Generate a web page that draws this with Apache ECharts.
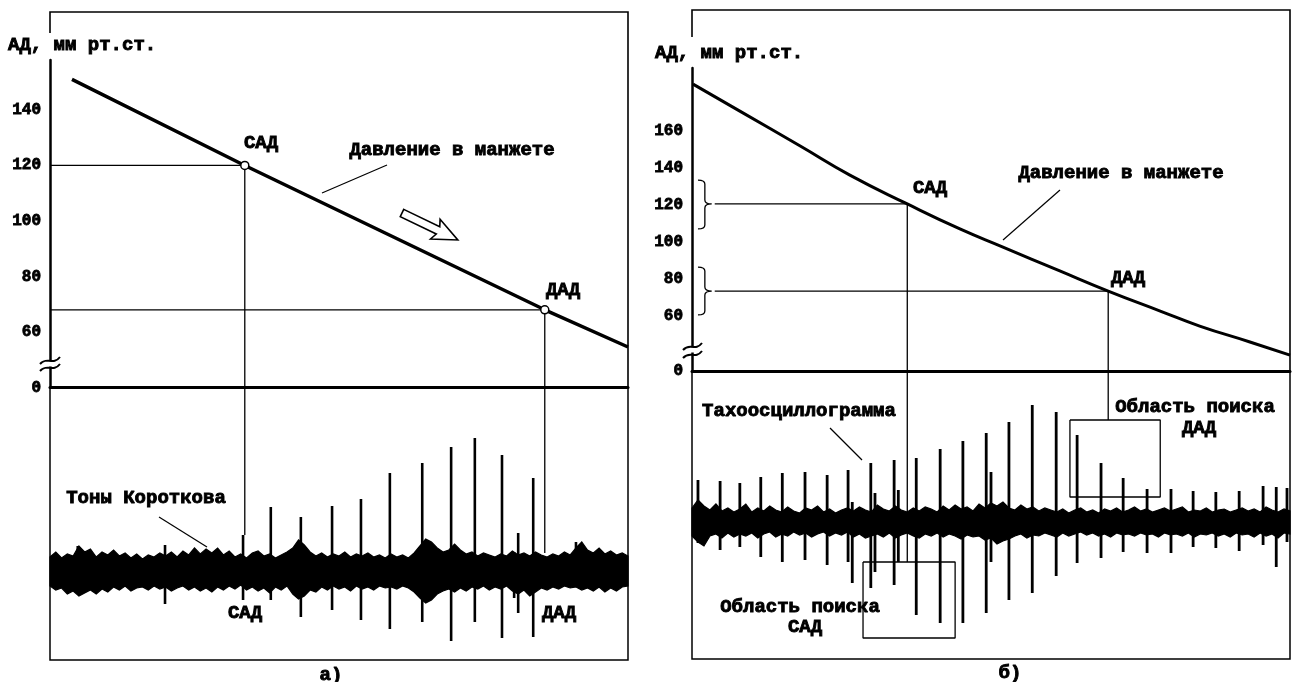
<!DOCTYPE html>
<html><head><meta charset="utf-8">
<script src="https://cdn.jsdelivr.net/npm/echarts/dist/echarts.min.js"></script>
<style>html,body{margin:0;padding:0;background:#fff}#c{width:1292px;height:682px}</style>
</head><body><div id="c"></div><script>
// ================= DATA =================
// x: relative time 0..100 across each panel; y (upper): pressure, mm Hg
// Left panel (a)
const leftPressure = [[3.8,151],[33.7,120],[85.6,68],[100,54.6]];
const leftSAD = [33.7,120];
const leftDAD = [85.6,68];
const leftYTicks = [40,60,80,100,120,140];      // 40 is drawn as "0" (broken axis)
const leftYBreakValue = 40;
// Korotkoff sound trace: [t, upper envelope, lower envelope] (relative units)
const leftNoise = [[0,15,-14],[1,20,-18],[2,14,-16],[3,18,-22],[4,16,-19],[5,26,-24],[6,20,-21],[7,23,-18],[8,15,-22],[9,20,-17],[10,17,-20],[11,22,-15],[12,16,-18],[13,19,-14],[14,14,-19],[15,18,-16],[16,13,-15],[17,17,-18],[18,15,-14],[19,19,-17],[20,16,-15],[21,20,-19],[22,15,-16],[23,21,-14],[24,17,-18],[25,24,-15],[26,18,-19],[27,23,-16],[28,19,-20],[29,24,-15],[30,17,-18],[31,21,-14],[32,15,-17],[33,18,-13],[34,14,-18],[35,19,-15],[36,21,-19],[37,16,-16],[38,18,-21],[39,14,-15],[40,17,-18],[41,20,-14],[42,24,-22],[43,32,-27],[44,27,-24],[45,20,-18],[46,16,-20],[47,19,-15],[48,15,-18],[49,18,-14],[50,16,-17],[51,20,-15],[52,15,-19],[53,18,-14],[54,16,-17],[55,19,-15],[56,15,-18],[57,17,-14],[58,14,-16],[59,18,-15],[60,15,-17],[61,17,-14],[62,14,-16],[63,19,-20],[64,26,-26],[65,33,-31],[66,30,-28],[67,24,-22],[68,20,-19],[69,22,-17],[70,28,-20],[71,22,-16],[72,18,-19],[73,20,-15],[74,16,-17],[75,19,-14],[76,17,-18],[77,15,-15],[78,18,-17],[79,16,-14],[80,21,-19],[81,17,-22],[82,19,-18],[83,16,-24],[84,20,-20],[85,17,-16],[86,15,-18],[87,18,-15],[88,16,-17],[89,20,-14],[90,17,-16],[91,24,-15],[92,30,-18],[93,22,-16],[94,19,-19],[95,24,-15],[96,18,-20],[97,21,-16],[98,17,-19],[99,19,-15],[100,16,-14]];
// Korotkoff tones: [t, peak up, peak down]
const leftSpikes = [[4.8,26,-20],[19.9,27,-32],[33.4,37,-28],[38.2,65,-28],[43.4,55,-45],[48.8,66,-38],[53.8,73,-48],[58.8,99,-57],[64.4,109,-50],[69.4,125,-69],[73.5,134,-50],[78.2,117,-66],[80.3,20,-26],[81.0,39,-41],[83.6,94,-65],[91.0,30,-15]];
const leftSignalTopAtSAD = 37;
const leftSignalTopAtDAD = 19;

// Right panel (б)
const rightPressure = [[0.17,185.1],[8.0,170.5],[18.1,151.6],[26.4,135.9],[36.0,120.3],[44.8,106.8],[52.0,97.0],[61.5,84.1],[69.6,73.2],[78.3,62.4],[84.9,54.3],[93.3,45.7],[100,38.6]];
const rightSAD = [36.0,120.3];
const rightDAD = [69.6,73.2];
const rightYTicks = [30,60,80,100,120,140,160];  // 30 is drawn as "0" (broken axis)
const rightYBreakValue = 30;
const rightBraces = [[1.0,3.3,133.2,106.8,120.3],[1.0,3.3,86.2,60.3,73.2]]; // x0,x1,top,bottom,tip
const rightNoise = [[0,14,-14],[1,22,-20],[2,16,-24],[3,12,-14],[4,18,-12],[5,11,-16],[6,14,-11],[7,10,-15],[8,13,-12],[9,18,-14],[10,10,-11],[11,14,-16],[12,11,-12],[13,16,-10],[14,12,-15],[15,10,-12],[16,15,-14],[17,11,-10],[18,9,-13],[19,14,-11],[20,12,-15],[21,16,-12],[22,10,-10],[23,13,-14],[24,9,-11],[25,12,-13],[26,14,-10],[27,11,-15],[28,15,-12],[29,12,-16],[30,10,-14],[31,17,-12],[32,13,-15],[33,11,-11],[34,16,-16],[35,12,-13],[36,10,-11],[37,14,-14],[38,11,-16],[39,15,-12],[40,13,-14],[41,10,-11],[42,16,-15],[43,12,-12],[44,17,-14],[45,13,-17],[46,15,-13],[47,11,-15],[48,18,-14],[49,14,-18],[50,19,-16],[51,16,-22],[52,20,-19],[53,14,-17],[54,12,-14],[55,17,-12],[56,13,-16],[57,15,-13],[58,11,-14],[59,14,-11],[60,12,-13],[61,10,-15],[62,13,-11],[63,9,-14],[64,12,-12],[65,14,-10],[66,10,-13],[67,12,-11],[68,9,-14],[69,13,-12],[70,11,-15],[71,14,-11],[72,10,-13],[73,12,-12],[74,15,-14],[75,11,-11],[76,13,-13],[77,10,-12],[78,12,-15],[79,14,-11],[80,11,-13],[81,13,-12],[82,15,-14],[83,10,-11],[84,12,-15],[85,11,-12],[86,14,-13],[87,10,-11],[88,12,-14],[89,13,-12],[90,10,-15],[91,12,-11],[92,14,-13],[93,11,-12],[94,13,-15],[95,10,-11],[96,15,-14],[97,12,-12],[98,10,-16],[99,13,-11],[100,11,-12]];
const rightSpikes = [[1.0,42,-21],[4.7,41,-28],[8.0,39,-25],[11.5,45,-35],[15.1,49,-40],[18.9,50,-38],[22.6,47,-43],[26.1,52,-40],[26.8,20,-61],[29.9,59,-66],[30.6,29,-50],[33.8,62,-63],[34.5,32,-40],[37.5,64,-93],[41.5,73,-101],[45.3,81,-101],[49.2,89,-91],[50.0,50,-40],[53.0,100,-78],[56.9,117,-71],[60.9,110,-54],[64.4,87,-41],[68.4,59,-36],[72.1,44,-30],[76.1,33,-31],[80.1,33,-31],[83.8,31,-25],[87.6,30,-26],[91.5,31,-29],[95.5,36,-23],[97.7,35,-45],[99.5,34,-20]];
const rightSADBox = [28.6,44.0,-40,-116];  // x0,x1,top,bottom
const rightDADBox = [63.2,78.3,102,25];

// ================= CHART =================
const FONT = '"Liberation Mono","DejaVu Sans Mono",monospace';
const chart = echarts.init(document.getElementById('c'), null, {renderer:'canvas'});

function vLine(x, y0, y1, gi, w){ return {type:'line', xAxisIndex:gi, yAxisIndex:gi, data:[[x,y0],[x,y1]], symbol:'none', silent:true, lineStyle:{color:'#000', width:w||1.3}, z:3}; }
function hLine(x0, x1, y, gi, w){ return {type:'line', xAxisIndex:gi, yAxisIndex:gi, data:[[x0,y],[x1,y]], symbol:'none', silent:true, lineStyle:{color:'#000', width:w||1.3}, z:3}; }
function boxLine(b, gi){ return {type:'line', xAxisIndex:gi, yAxisIndex:gi, data:[[b[0],b[2]],[b[1],b[2]],[b[1],b[3]],[b[0],b[3]],[b[0],b[2]]], symbol:'none', silent:true, lineStyle:{color:'#000', width:1.3}, z:3}; }
function band(noise, gi){
  return {type:'custom', xAxisIndex:gi, yAxisIndex:gi, silent:true, data:[[noise[0][0],0]], z:4,
    renderItem:(p, api)=>{
      const pts=[];
      for(let i=0;i<noise.length;i++) pts.push(api.coord([noise[i][0], noise[i][1]]));
      for(let i=noise.length-1;i>=0;i--) pts.push(api.coord([noise[i][0], noise[i][2]]));
      return {type:'polygon', shape:{points:pts}, style:{fill:'#000', stroke:'#000', lineWidth:1.2, lineJoin:'miter', miterLimit:10}};
    }};
}
function spikes(list, gi, w){
  return {type:'custom', xAxisIndex:gi, yAxisIndex:gi, silent:true, data:list, z:5,
    renderItem:(p, api)=>{
      const a=api.coord([api.value(0), api.value(1)]);
      const b=api.coord([api.value(0), api.value(2)]);
      return {type:'line', shape:{x1:a[0],y1:a[1],x2:b[0],y2:b[1]}, style:{stroke:'#000', lineWidth:w}};
    }};
}
function braces(list, gi){
  return {type:'custom', xAxisIndex:gi, yAxisIndex:gi, silent:true, data:list, z:5,
    renderItem:(p, api)=>{
      const x0=api.coord([api.value(0),0])[0], x1=api.coord([api.value(1),0])[0];
      const yt=api.coord([0,api.value(2)])[1], yb=api.coord([0,api.value(3)])[1], ym=api.coord([0,api.value(4)])[1];
      const xm=(x0+x1)/2, r=4;
      const d=`M${x0},${yt} Q${xm},${yt} ${xm},${yt+r} L${xm},${ym-r} Q${xm},${ym} ${x1},${ym} Q${xm},${ym} ${xm},${ym+r} L${xm},${yb-r} Q${xm},${yb} ${x0},${yb}`;
      return {type:'path', shape:{pathData:d}, style:{fill:null, stroke:'#000', lineWidth:1.3}};
    }};
}

const grids = [
  {left:50, top:60, width:578, height:327.5},
  {left:50, top:387.5, width:578, height:272.5, show:true, borderColor:'#000', borderWidth:1.5, backgroundColor:'transparent'},
  {left:692, top:68, width:598, height:303},
  {left:692, top:371, width:598, height:288, show:true, borderColor:'#000', borderWidth:1.5, backgroundColor:'transparent'}
];
const hidden = {axisLine:{show:false}, axisTick:{show:false}, axisLabel:{show:false}, splitLine:{show:false}};
const xAxes = grids.map((g,i)=>Object.assign({type:'value', gridIndex:i, min:0, max:100}, hidden,
  (i===0||i===2)?{axisLine:{show:true, onZero:false, lineStyle:{color:'#000', width:3}}}:{}));
const yLab = (ticks, brk)=>({show:true, customValues:ticks, formatter:v=>v===brk?'0':String(v), color:'#000', fontFamily:FONT, fontWeight:'bold', fontSize:16, margin:9, textBorderColor:'#000', textBorderWidth:0.8});
const yAxes = [
  Object.assign({type:'value', gridIndex:0, min:40, max:158}, hidden, {axisLine:{show:true, onZero:false, lineStyle:{color:'#000', width:2.5}}, axisLabel:yLab(leftYTicks,leftYBreakValue)}),
  Object.assign({type:'value', gridIndex:1, min:-88, max:184.5}, hidden),
  Object.assign({type:'value', gridIndex:2, min:30, max:193.8}, hidden, {axisLine:{show:true, onZero:false, lineStyle:{color:'#000', width:2.5}}, axisLabel:yLab(rightYTicks,rightYBreakValue)}),
  Object.assign({type:'value', gridIndex:3, min:-137, max:151}, hidden)
];

const series = [
  // left upper
  hLine(0, leftSAD[0], leftSAD[1], 0), hLine(0, leftDAD[0], leftDAD[1], 0),
  vLine(leftSAD[0], leftSAD[1], 40, 0), vLine(leftDAD[0], leftDAD[1], 40, 0),
  {type:'line', xAxisIndex:0, yAxisIndex:0, data:leftPressure, symbol:'none', silent:true, lineStyle:{color:'#000', width:3.5}, z:6},
  {type:'scatter', xAxisIndex:0, yAxisIndex:0, data:[leftSAD,leftDAD], symbol:'circle', symbolSize:8, silent:true, itemStyle:{color:'#fff', borderColor:'#000', borderWidth:1.5, opacity:1}, z:7},
  // left lower
  vLine(leftSAD[0], 184.5, leftSignalTopAtSAD, 1), vLine(leftDAD[0], 184.5, leftSignalTopAtDAD, 1),
  band(leftNoise, 1), spikes(leftSpikes, 1, 2.6),
  // right upper
  hLine(3.8, rightSAD[0], rightSAD[1], 2), hLine(3.8, rightDAD[0], rightDAD[1], 2),
  vLine(rightSAD[0], rightSAD[1], 30, 2), vLine(rightDAD[0], rightDAD[1], 30, 2),
  {type:'line', xAxisIndex:2, yAxisIndex:2, data:rightPressure, symbol:'none', smooth:0.5, silent:true, lineStyle:{color:'#000', width:3}, z:6},
  braces(rightBraces, 2),
  // right lower
  vLine(rightSAD[0], 151, rightSADBox[2], 3), vLine(rightDAD[0], 151, rightDADBox[2], 3),
  boxLine(rightSADBox, 3), boxLine(rightDADBox, 3),
  band(rightNoise, 3), spikes(rightSpikes, 3, 2.8)
];

const T = (text, x, y, align)=>({type:'text', x:x, y:y, z:20, silent:true, style:{text:text, fill:'#000', stroke:'#000', lineWidth:0.9, font:'bold 19px '+FONT, textAlign:align||'center', textVerticalAlign:'middle'}});
const L = (x1,y1,x2,y2,w)=>({type:'line', z:20, silent:true, shape:{x1,y1,x2,y2}, style:{stroke:'#000', lineWidth:w||1.2}});
const graphic = [
  {type:'polyline', z:20, silent:true, shape:{points:[[50,33],[50,12],[628,12],[628,388]]}, style:{stroke:'#000', lineWidth:1.6, fill:null}},
  {type:'polyline', z:20, silent:true, shape:{points:[[692,37],[692,10],[1290,10],[1290,371]]}, style:{stroke:'#000', lineWidth:1.6, fill:null}},
  // axis breaks
  {type:'rect', z:21, silent:true, shape:{x:46, y:361.5, width:8, height:5}, style:{fill:'#fff'}},
  {type:'bezierCurve', z:22, silent:true, shape:{x1:40,y1:364,cpx1:47,cpy1:356,cpx2:53,cpy2:366,x2:60,y2:357}, style:{stroke:'#000', lineWidth:2, fill:null}},
  {type:'bezierCurve', z:22, silent:true, shape:{x1:40,y1:371,cpx1:47,cpy1:363,cpx2:53,cpy2:373,x2:60,y2:364}, style:{stroke:'#000', lineWidth:2, fill:null}},
  {type:'rect', z:21, silent:true, shape:{x:688, y:347.5, width:8, height:5}, style:{fill:'#fff'}},
  {type:'bezierCurve', z:22, silent:true, shape:{x1:683,y1:350,cpx1:690,cpy1:342,cpx2:695,cpy2:352,x2:702,y2:343}, style:{stroke:'#000', lineWidth:2, fill:null}},
  {type:'bezierCurve', z:22, silent:true, shape:{x1:683,y1:358,cpx1:690,cpy1:350,cpx2:695,cpy2:360,x2:702,y2:351}, style:{stroke:'#000', lineWidth:2, fill:null}},
  // hollow arrow (left)
  {type:'polygon', z:22, silent:true, x:402, y:213, rotation:-0.45, shape:{points:[[0,-4],[40,-4],[37,-11],[62,0],[37,11],[40,4],[0,4]]}, style:{fill:'#fff', stroke:'#000', lineWidth:1.6}},
  // leader lines
  L(387,165,322,193), L(159,517,207,547), L(1060,190,1003,240), L(830,428,862,460),
  // texts left
  T('АД, мм рт.ст.', 8, 45, 'left'),
  T('САД', 261, 143), T('Давление в манжете', 452, 150), T('ДАД', 563, 290),
  T('Тоны Короткова', 146, 498), T('САД', 245, 613), T('ДАД', 559, 613), T('а)', 331, 675),
  // texts right
  T('АД, мм рт.ст.', 655, 53, 'left'),
  T('САД', 930, 188), T('Давление в манжете', 1121, 173), T('ДАД', 1128, 278),
  T('Тахоосциллограмма', 799, 411),
  T('Область поиска', 800, 607), T('САД', 805, 627),
  T('Область поиска', 1195, 407), T('ДАД', 1199, 428),
  T('б)', 1010, 673)
];

chart.setOption({animation:false, backgroundColor:'#fff', grid:grids, xAxis:xAxes, yAxis:yAxes, series:series, graphic:graphic});
</script></body></html>
